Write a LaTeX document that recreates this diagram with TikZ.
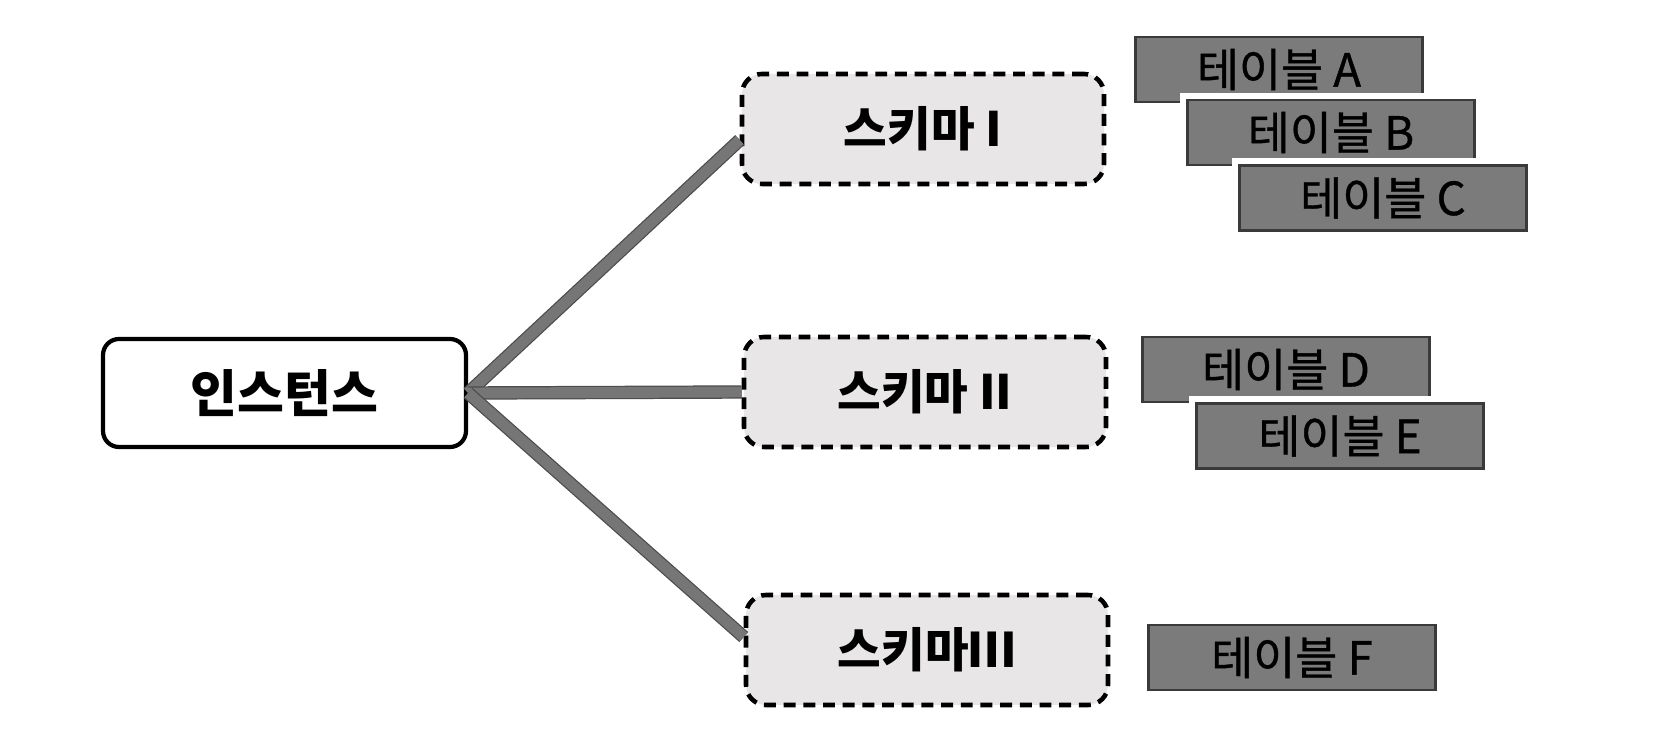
\documentclass[tikz,border=0pt]{standalone}
\usepackage{fontspec}
\setmainfont{Noto Sans CJK KR}
\newfontfamily\tablefont[FakeBold=0.8]{Noto Sans CJK KR}
\usepackage{tikz}
\definecolor{schemafill}{HTML}{E8E6E6}
\definecolor{tablefill}{HTML}{7B7B7B}
\definecolor{tableline}{HTML}{3A3A3A}
\definecolor{linkgray}{HTML}{767676}

\begin{document}
\begin{tikzpicture}[x=1cm, y=1cm,
    instbox/.style={draw=black, line width=1.2pt, rounded corners=0.16cm, fill=white,
      minimum width=3.63cm, minimum height=1.08cm, font=\bfseries\fontsize{14.5}{16}\selectfont},
    schemabox/.style={draw=black, line width=1.3pt, dash pattern=on 3.4pt off 2.2pt,
      rounded corners=0.2cm, fill=schemafill, minimum width=3.62cm, minimum height=1.1cm,
      font=\bfseries\fontsize{13.5}{15}\selectfont},
    tablebox/.style={preaction={draw=white, line width=4pt}, draw=tableline, line width=0.8pt,
      fill=tablefill, text=black, minimum width=2.87cm, minimum height=0.65cm,
      font=\tablefont\fontsize{13}{14}\selectfont},
    link/.style={preaction={draw=black!70, line width=3.8pt}, draw=linkgray, line width=3.1pt}]

  % Frame
  \useasboundingbox (0, 0) rectangle (16.64, 7.36);

  % Instance
  \node[instbox] (inst) at (2.845, 3.43) {인스턴스};

  % Schemas
  \node[schemabox] (s1) at (9.23, 6.07) {스키마 I};
  \node[schemabox] (s2) at (9.25, 3.44) {스키마 II};
  \node[schemabox] (s3) at (9.27, 0.86) {스키마Ⅲ};

  % Links from the instance to each schema
  \draw[link] (inst.east) -- ([yshift=-0.11cm]s1.west);
  \draw[link] (inst.east) -- (s2.west);
  \draw[link] (inst.east) -- ([yshift=0.13cm]s3.west);

  % Tables of schema I
  \node[tablebox] (ta) at (12.79, 6.665) {테이블 A};
  \node[tablebox] (tb) at (13.31, 6.035) {테이블 B};
  \node[tablebox] (tc) at (13.83, 5.38) {테이블 C};

  % Tables of schema II
  \node[tablebox] (td) at (12.86, 3.665) {테이블 D};
  \node[tablebox] (te) at (13.40, 3.00) {테이블 E};

  % Table of schema III
  \node[tablebox] (tf) at (12.92, 0.785) {테이블 F};

\end{tikzpicture}
\end{document}
